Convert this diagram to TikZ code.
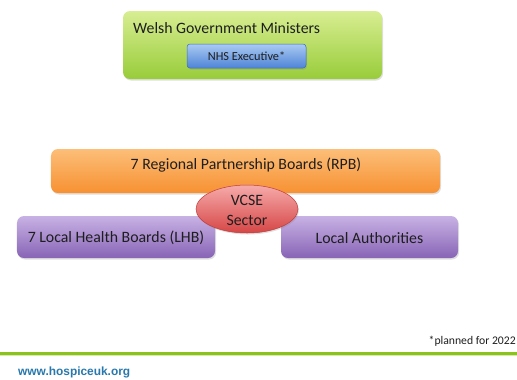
\documentclass[tikz,border=0pt]{standalone}
\usepackage{fontspec}
\setmainfont{Carlito}
\newfontfamily\webfont{Liberation Sans}
\usepackage{tikz}
\usetikzlibrary{shadows, shapes.geometric}

\definecolor{GreenTop}{RGB}{216,238,146}
\definecolor{GreenBot}{RGB}{152,204,58}
\definecolor{BlueTop}{RGB}{170,202,242}
\definecolor{BlueBot}{RGB}{78,132,214}
\definecolor{BlueRim}{RGB}{60,110,190}
\definecolor{OrangeTop}{RGB}{252,190,120}
\definecolor{OrangeBot}{RGB}{247,145,50}
\definecolor{PurpleTop}{RGB}{200,178,228}
\definecolor{PurpleBot}{RGB}{136,100,182}
\definecolor{RedTop}{RGB}{246,170,170}
\definecolor{RedBot}{RGB}{214,70,70}
\definecolor{RedRim}{RGB}{190,60,60}
\definecolor{BarGreen}{RGB}{140,194,30}
\definecolor{WebBlue}{RGB}{40,120,172}
\definecolor{TextGrey}{RGB}{30,30,30}

\tikzset{
  box/.style={rounded corners=7bp, inner sep=0pt,
    drop shadow={opacity=0.25, shadow xshift=1bp, shadow yshift=-1.5bp}},
  lbl/.style={text=TextGrey, font=\fontsize{15.8bp}{18bp}\selectfont, inner sep=0pt}
}

\begin{document}
\begin{tikzpicture}[x=1bp, y=-1bp]
  \useasboundingbox (0,0) rectangle (517,379);

  % top: ministers and executive
  \node[box, top color=GreenTop, bottom color=GreenBot,
        minimum width=259bp, minimum height=68bp] (wgm) at (252.5,45) {};
  \node[lbl, anchor=west] (wgmtext) at (133,28) {Welsh Government Ministers};
  \node[box, rounded corners=3bp, draw=BlueRim, line width=0.5bp,
        top color=BlueTop, bottom color=BlueBot,
        minimum width=119bp, minimum height=24bp,
        font=\fontsize{12.3bp}{14bp}\selectfont, text=TextGrey] (nhs) at (246.5,56) {NHS Executive*};

  % partnership layer
  \node[box, top color=OrangeTop, bottom color=OrangeBot,
        minimum width=389bp, minimum height=44bp] (rpb) at (245.5,171) {};
  \node[lbl] (rpbtext) at (246,165) {7 Regional Partnership Boards (RPB)};

  \node[box, top color=PurpleTop, bottom color=PurpleBot,
        minimum width=198bp, minimum height=42bp] (lhb) at (116,237) {};
  \node[lbl] (lhbtext) at (116,238) {7 Local Health Boards (LHB)};
  \node[box, top color=PurpleTop, bottom color=PurpleBot,
        minimum width=177bp, minimum height=42bp] (la) at (369.5,237) {};
  \node[lbl] (latext) at (369.5,238) {Local Authorities};

  \node[ellipse, draw=RedRim, line width=0.5bp, top color=RedTop, bottom color=RedBot,
        minimum width=102bp, minimum height=48bp, inner sep=0pt,
        drop shadow={opacity=0.25, shadow xshift=1bp, shadow yshift=-1.5bp}] (vcse) at (247,209) {};
  \node[lbl, align=center, font=\fontsize{15.8bp}{20bp}\selectfont] (vcsetext) at (247,210) {VCSE\\Sector};

  % footer
  \node[lbl, anchor=east, font=\fontsize{11.7bp}{14bp}\selectfont] (note) at (516,341) {*planned for 2022};
  \fill[BarGreen] (0,351.5) rectangle (517,354.5);
  \fill[BarGreen!35] (0,354.5) rectangle (517,356);
  \node[anchor=west, inner sep=0pt, text=WebBlue,
        font=\webfont\bfseries\fontsize{11.9bp}{14bp}\selectfont] (web) at (18,372) {www.hospiceuk.org};
\end{tikzpicture}
\end{document}
